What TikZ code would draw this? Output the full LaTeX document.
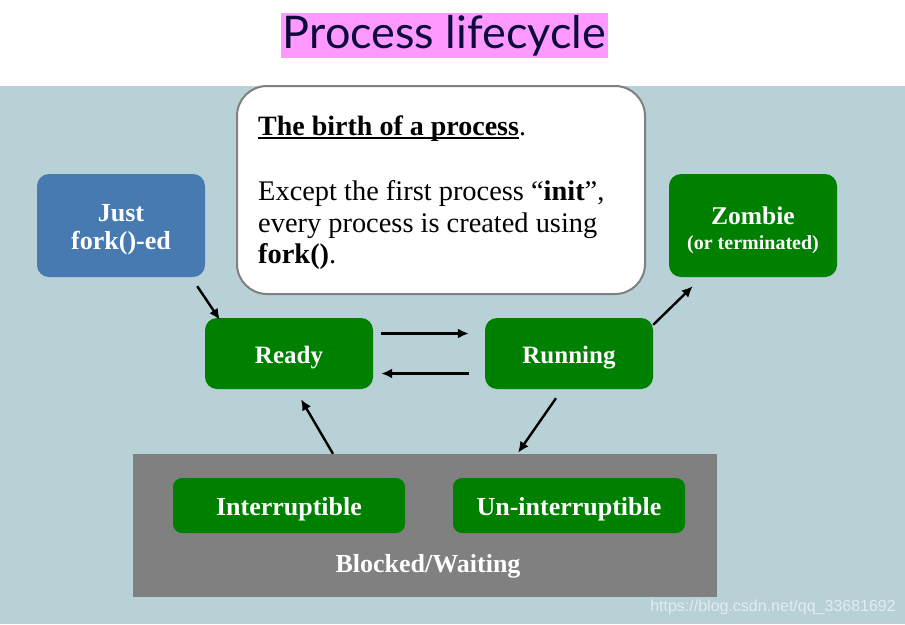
\documentclass[tikz,border=0pt]{standalone}
\usepackage{fontspec}
\setmainfont{Liberation Serif}
\newfontfamily\titlefont{Lato}
\newfontfamily\wmfont{Liberation Sans}
\usetikzlibrary{arrows.meta}
\definecolor{bgblue}{RGB}{183,209,214}
\definecolor{boxgreen}{RGB}{0,128,0}
\definecolor{boxblue}{RGB}{70,122,176}
\definecolor{boxgray}{RGB}{128,128,128}
\definecolor{titlepink}{RGB}{255,153,255}
\definecolor{titlenavy}{RGB}{12,12,60}
\newcommand\thickul[1]{\setbox0\hbox{#1}\rlap{\rule[-4pt]{\wd0}{1.8pt}}\box0}
\tikzset{
  state/.style={rounded corners=12pt, fill=boxgreen, text=white, inner sep=0pt,
    align=center, font=\bfseries\fontsize{26}{28}\selectfont},
  bigstate/.style={state, minimum width=168pt, minimum height=103pt},
  midstate/.style={state, minimum width=168pt, minimum height=71pt,
    font=\bfseries\fontsize{25}{28}\selectfont, text height=20pt, text depth=0pt},
  smallstate/.style={state, rounded corners=9pt, minimum width=232pt, minimum height=55pt,
    font=\bfseries\fontsize{26}{28}\selectfont, text height=19pt, text depth=0pt},
  arr/.style={-{Latex[length=11pt,width=10pt]}, line width=2.4pt, black},
  noteline/.style={anchor=base west, inner sep=0pt, font=\fontsize{28.4}{31}\selectfont}
}
\begin{document}
\begin{tikzpicture}[x=1pt,y=-1pt]
\useasboundingbox (0,0) rectangle (905,624);
\fill[white] (0,0) rectangle (905,624);
\fill[bgblue] (0,86) rectangle (905,624);

% title
\node[fill=titlepink, text=titlenavy, minimum width=327pt, minimum height=45pt, inner sep=0pt,
  font=\titlefont\fontsize{45}{48}\selectfont] (title) at (444.5,35.5) {Process lifecycle};

% note box
\node[draw=boxgray, line width=2pt, fill=white, rounded corners=30pt,
  minimum width=408pt, minimum height=208pt, inner sep=0pt] (birth) at (441,190) {};
\node[noteline, font=\bfseries\fontsize{28}{31}\selectfont] (head) at (258,135)
  {\thickul{The birth of a process}\mdseries.};
\node[noteline] (l1) at (258,200) {Except the first process “\textbf{init}”,};
\node[noteline] (l2) at (258,232) {every process is created using};
\node[noteline] (l3) at (258,263) {\textbf{fork()}.};

% states
\node[bigstate, fill=boxblue] (just) at (121,225.5) {\rule{0pt}{26pt}Just\\fork()-ed};
\node[bigstate] (zombie) at (753,225.5)
  {\rule{0pt}{28pt}\fontsize{25.5}{28}\selectfont Zombie\\[-3pt]{\fontsize{20}{22}\selectfont (or terminated)}};
\node[midstate] (ready) at (289,353.5) {Ready};
\node[midstate] (running) at (569,353.5) {Running};

% blocked
\node[fill=boxgray, minimum width=584pt, minimum height=143pt, inner sep=0pt] (blocked) at (425,525.5) {};
\node[smallstate] (intr) at (289,505.5) {Interruptible};
\node[smallstate] (unintr) at (569,505.5) {Un-interruptible};
\node[text=white, inner sep=0pt, font=\bfseries\fontsize{26}{28}\selectfont] (blab) at (428,566) {Blocked/Waiting};

% arrows
\draw[arr] ([xshift=-8pt,yshift=-9pt]just.south east) -- ([xshift=15pt,yshift=-2pt]ready.north west);
\draw[arr] ([xshift=8pt,yshift=20pt]ready.east) -- ([xshift=-16pt,yshift=20pt]running.west);
\draw[arr] ([xshift=-16pt,yshift=-20pt]running.west) -- ([xshift=8pt,yshift=-20pt]ready.east);
\draw[arr] ([yshift=-7pt]running.north east) -- ([xshift=24pt,yshift=-9pt]zombie.south west);
\draw[arr] ([xshift=-13pt,yshift=-9pt]running.south) -- ([xshift=93pt,yshift=1pt]blocked.north);
\draw[arr] ([xshift=-92pt]blocked.north) -- ([xshift=12pt,yshift=-10pt]ready.south);

% watermark
\node[anchor=base east, inner sep=0pt, text=white, opacity=0.6, font=\wmfont\fontsize{16}{18}\selectfont] (wm) at (896,611) {https://blog.csdn.net/qq\_33681692};
\end{tikzpicture}
\end{document}
